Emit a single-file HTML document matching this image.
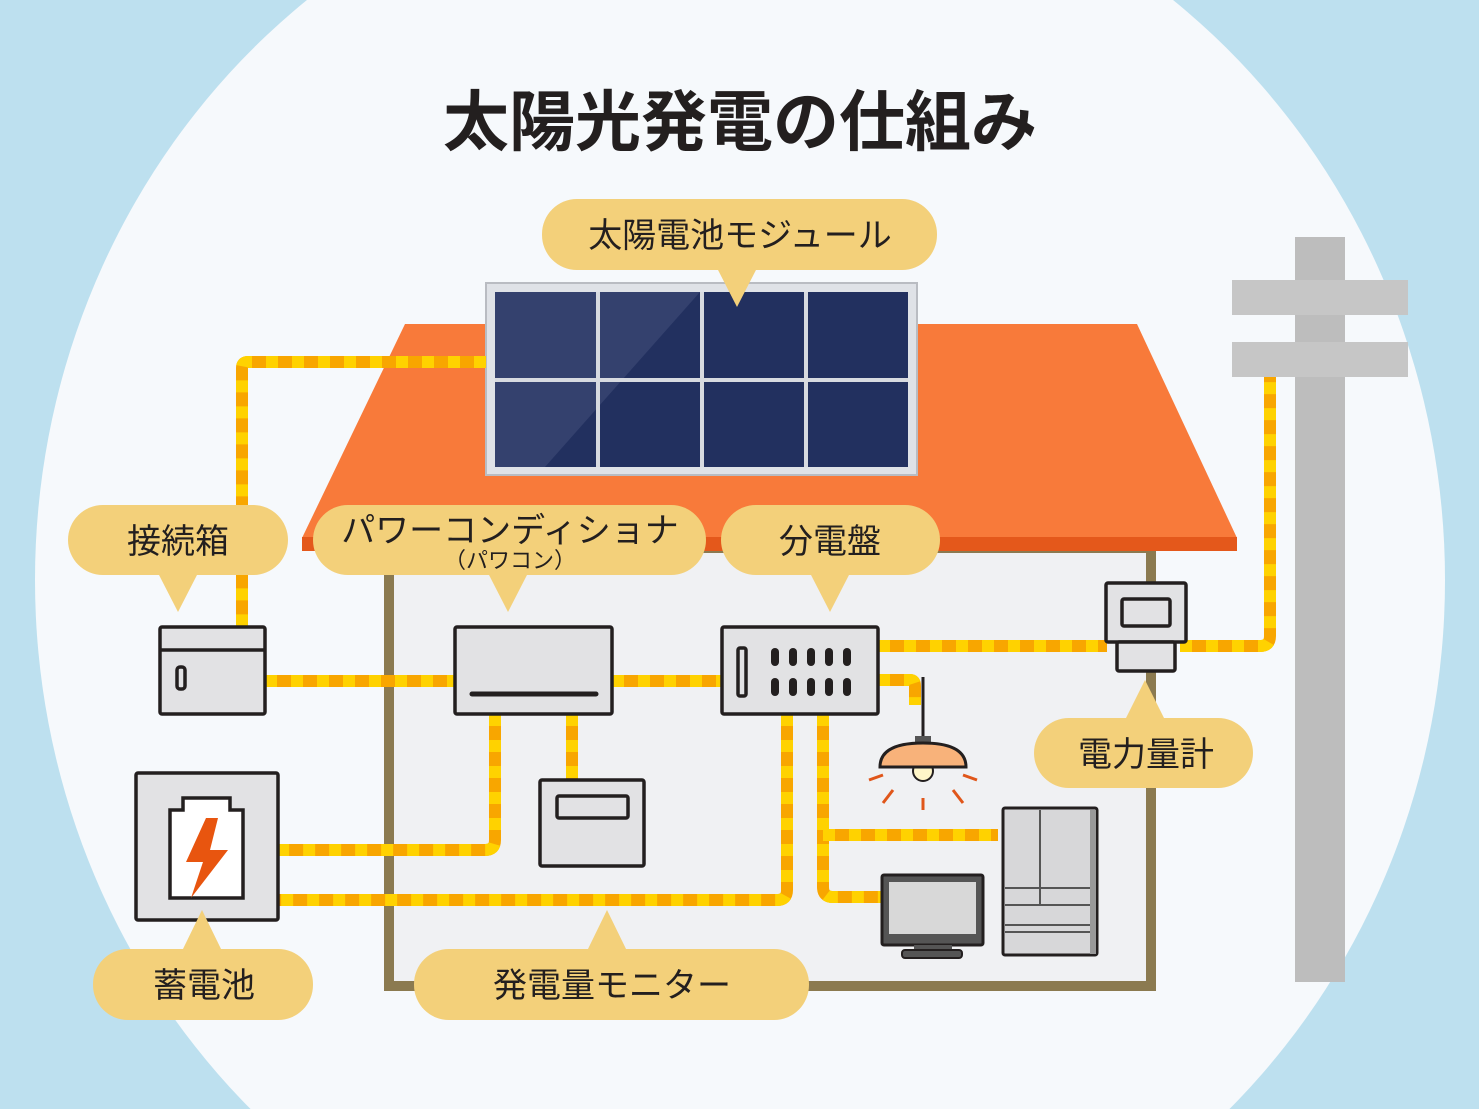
<!DOCTYPE html>
<html><head><meta charset="utf-8"><style>
html,body{margin:0;padding:0;}
body{width:1479px;height:1109px;overflow:hidden;background:#bde0ef;}
svg{display:block;font-family:"Liberation Sans","Noto Sans CJK JP",sans-serif;}
</style></head><body>
<svg width="1479" height="1109" viewBox="0 0 1479 1109" xmlns="http://www.w3.org/2000/svg">
<rect width="1479" height="1109" fill="#bde0ef"/>
<ellipse cx="740" cy="580" rx="705" ry="735" fill="#f6f9fc"/>
<text x="740" y="145" text-anchor="middle" font-size="66" font-weight="bold" fill="#231f1f">太陽光発電の仕組み</text>

<!-- pole -->
<rect x="1295" y="237" width="50" height="745" fill="#bdbdbd"/>
<rect x="1232" y="280" width="176" height="35" fill="#c6c6c6"/>
<rect x="1232" y="342" width="176" height="35" fill="#c6c6c6"/>

<!-- house -->
<rect x="389" y="548" width="762" height="438" fill="#f0f1f3" stroke="#8b7a50" stroke-width="10"/>
<polygon points="405,324 1137,324 1237,538 302,538" fill="#f87a3a"/>
<rect x="302" y="537" width="935" height="14" fill="#e4581b"/>

<!-- panel -->
<rect x="486" y="283" width="431" height="192" fill="#dfe2e7" stroke="#b9bcc2" stroke-width="2"/>
<rect x="495" y="292" width="413" height="175" fill="#22305f"/>
<polygon points="495,292 700,292 545,467 495,467" fill="#34416e"/>
<g stroke="#d7dae0" stroke-width="4">
<line x1="598" y1="292" x2="598" y2="467"/><line x1="702" y1="292" x2="702" y2="467"/><line x1="806" y1="292" x2="806" y2="467"/>
<line x1="495" y1="380" x2="908" y2="380"/>
</g>

<!-- wires -->
<g fill="none" stroke-width="12" stroke-linejoin="round">
<g stroke="#f8a600">
<path d="M486 362 H248 Q242 362 242 368 V627"/>
<path d="M265 681 H455"/><path d="M612 681 H722"/>
<path d="M495 714 V840 Q495 850 485 850 H278"/>
<path d="M572 714 V780"/>
<path d="M787 714 V890 Q787 900 777 900 H278"/>
<path d="M823 714 V887 Q823 897 833 897 H882"/>
<path d="M823 835 H998"/>
<path d="M878 680 H910 Q915 680 915 686 V705"/>
<path d="M878 646 H1107"/><path d="M1180 646 H1260 Q1270 646 1270 636 V377"/>
</g>
<g stroke="#ffd200" stroke-dasharray="12 14">
<path d="M486 362 H248 Q242 362 242 368 V627"/>
<path d="M265 681 H455"/><path d="M612 681 H722"/>
<path d="M495 714 V840 Q495 850 485 850 H278"/>
<path d="M572 714 V780"/>
<path d="M787 714 V890 Q787 900 777 900 H278"/>
<path d="M823 714 V887 Q823 897 833 897 H882"/>
<path d="M823 835 H998"/>
<path d="M878 680 H910 Q915 680 915 686 V705"/>
<path d="M878 646 H1107"/><path d="M1180 646 H1260 Q1270 646 1270 636 V377"/>
</g>
</g>

<!-- devices -->
<g stroke="#231f1f" stroke-width="3.5" fill="#e2e2e4">
<rect x="160" y="627" width="105" height="87" rx="2"/>
<line x1="160" y1="650" x2="265" y2="650"/>
<rect x="177" y="667" width="8" height="22" rx="3"/>
<rect x="455" y="627" width="157" height="87" rx="2"/>
<line x1="472" y1="694" x2="596" y2="694" stroke-width="5" stroke-linecap="round"/>
<rect x="722" y="627" width="156" height="87" rx="2"/>
<rect x="738" y="648" width="8" height="48" rx="2"/>
<rect x="540" y="780" width="104" height="86" rx="2"/>
<rect x="557" y="796" width="71" height="22" rx="2"/>
<rect x="136" y="773" width="142" height="147" rx="2"/>
<path d="M183 810 V798 H230 V810 H243 V898 H170 V810 Z" fill="#fff"/>
<rect x="1106" y="583" width="80" height="59" rx="2"/>
<rect x="1117" y="642" width="58" height="29" rx="2"/>
<rect x="1122" y="599" width="48" height="27" rx="2"/>
</g>
<g fill="#231f1f">
<rect x="771" y="648" width="8" height="18" rx="4"/><rect x="789" y="648" width="8" height="18" rx="4"/><rect x="807" y="648" width="8" height="18" rx="4"/><rect x="825" y="648" width="8" height="18" rx="4"/><rect x="843" y="648" width="8" height="18" rx="4"/>
<rect x="771" y="678" width="8" height="18" rx="4"/><rect x="789" y="678" width="8" height="18" rx="4"/><rect x="807" y="678" width="8" height="18" rx="4"/><rect x="825" y="678" width="8" height="18" rx="4"/><rect x="843" y="678" width="8" height="18" rx="4"/>
</g>
<polygon points="206,818 186,862 203,862 191,898 228,850 210,850 218,818" fill="#e8550f"/>

<!-- lamp -->
<line x1="923" y1="677" x2="923" y2="738" stroke="#231f1f" stroke-width="3"/>
<rect x="915" y="736" width="16" height="8" fill="#555" />
<circle cx="923" cy="771" r="10" fill="#fff6c8" stroke="#231f1f" stroke-width="2"/>
<path d="M880 767 Q880 743 923 743 Q966 743 966 767 Z" fill="#f8b27a" stroke="#231f1f" stroke-width="3"/>
<g stroke="#e0561a" stroke-width="3">
<line x1="869" y1="780" x2="883" y2="775"/><line x1="883" y1="803" x2="893" y2="790"/><line x1="923" y1="798" x2="923" y2="810"/><line x1="953" y1="790" x2="963" y2="803"/><line x1="963" y1="775" x2="977" y2="780"/>
</g>

<!-- TV -->
<rect x="882" y="875" width="101" height="70" rx="2" fill="#555" stroke="#231f1f" stroke-width="3"/>
<rect x="889" y="882" width="87" height="52" fill="#d8d8d8"/>
<rect x="914" y="945" width="38" height="6" fill="#555"/>
<rect x="902" y="950" width="60" height="8" rx="3" fill="#555" stroke="#231f1f" stroke-width="2"/>
<!-- fridge -->
<rect x="1003" y="808" width="94" height="147" rx="2" fill="#d7d7d9" stroke="#231f1f" stroke-width="3"/>
<g stroke="#555" stroke-width="2"><line x1="1040" y1="810" x2="1040" y2="905"/>
<line x1="1005" y1="888" x2="1090" y2="888"/><line x1="1005" y1="905" x2="1090" y2="905"/><line x1="1005" y1="925" x2="1090" y2="925"/><line x1="1005" y1="932" x2="1090" y2="932"/></g>
<rect x="1090" y="810" width="6" height="144" fill="#999"/>

<!-- bubbles -->
<g fill="#f3d07a">
<rect x="542" y="199" width="395" height="71" rx="35"/><polygon points="717,268 757,268 737,307"/>
<rect x="68" y="505" width="220" height="70" rx="35"/><polygon points="158,573 198,573 178,612"/>
<rect x="313" y="505" width="393" height="70" rx="35"/><polygon points="488,573 528,573 508,612"/>
<rect x="721" y="505" width="219" height="70" rx="35"/><polygon points="810,573 850,573 830,612"/>
<rect x="1034" y="718" width="219" height="70" rx="35"/><polygon points="1125,720 1165,720 1145,680"/>
<rect x="93" y="949" width="220" height="71" rx="35"/><polygon points="182,951 222,951 202,910"/>
<rect x="414" y="949" width="395" height="71" rx="35"/><polygon points="587,951 627,951 607,910"/>
</g>
<g fill="#231f1f" font-size="34" text-anchor="middle">
<text x="740" y="247">太陽電池モジュール</text>
<text x="178" y="553">接続箱</text>
<text x="510" y="542">パワーコンディショナ</text>
<text x="510" y="568" font-size="22">（パワコン）</text>
<text x="830" y="553">分電盤</text>
<text x="1146" y="766">電力量計</text>
<text x="204" y="997">蓄電池</text>
<text x="612" y="997">発電量モニター</text>
</g>
</svg>
</body></html>
